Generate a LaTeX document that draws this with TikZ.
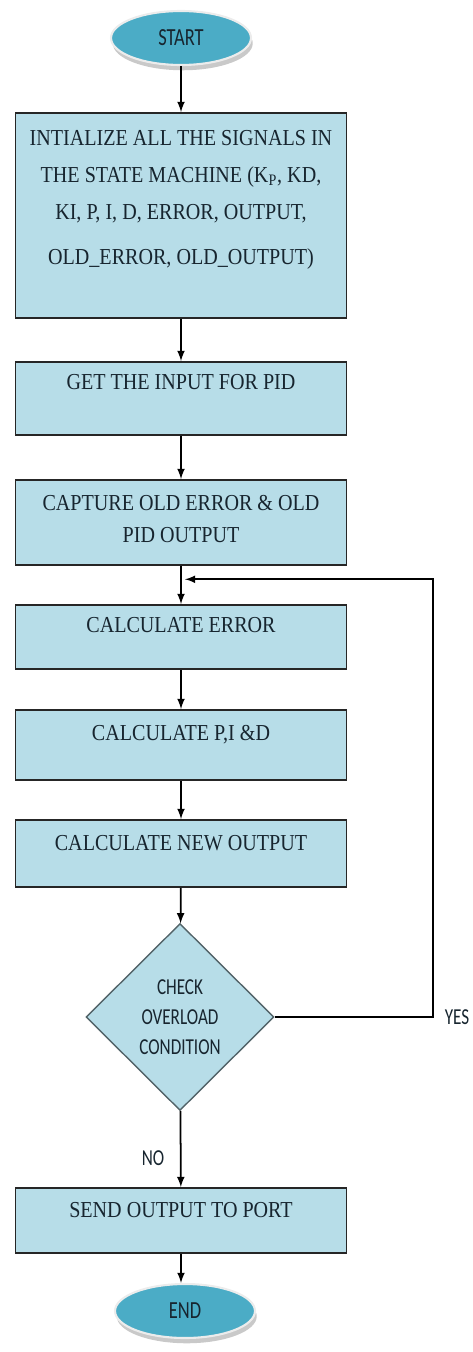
\documentclass[tikz,border=0pt]{standalone}
\usepackage{fontspec}
\setmainfont{Liberation Serif}
\newfontfamily\boxfont[FakeStretch=0.88]{Liberation Serif}
\newfontfamily\capfont[FakeStretch=0.75]{Carlito}
\usetikzlibrary{shapes.geometric,shadows,calc,arrows}
\definecolor{termblue}{HTML}{4BACC6}
\definecolor{boxblue}{HTML}{B7DDE8}
\definecolor{inkblue}{HTML}{17252F}

\begin{document}
\begin{tikzpicture}[x=0.02cm,y=-0.02cm,
	pidbox/.style={draw=black!85,line width=1.1pt,fill=boxblue,minimum width=6.62cm,inner sep=0pt,font=\boxfont\fontsize{13}{15}\selectfont,align=center,text=inkblue},
	oneline/.style={text height=8.5pt,text depth=#1},
	term/.style={ellipse,fill=termblue,draw=white!85!gray,line width=1.2pt,minimum width=2.8cm,minimum height=1.08cm,inner sep=0pt,font=\capfont\fontsize{14}{16}\selectfont,text=inkblue,drop shadow={shadow xshift=1pt,shadow yshift=-3pt,fill=black!30,opacity=0.7}},
	decision/.style={diamond,aspect=1,draw=black!55!boxblue,line width=0.8pt,fill=boxblue,minimum width=3.76cm,minimum height=3.74cm,inner sep=0pt,font=\capfont\fontsize{13}{17}\selectfont,align=center,text=inkblue},
	flow/.style={-latex,line width=1pt},
	tag/.style={font=\capfont\fontsize{13}{15}\selectfont,text=inkblue}]
		\useasboundingbox (0,0) rectangle (473,1352);
		\node[term] (start) at (181,38) {START};
		\node[pidbox,minimum height=4.1cm,text depth=20.5pt] (init) at (181,215.5) {INTIALIZE ALL THE SIGNALS IN\\[6pt]THE STATE MACHINE (K\textsubscript{P}, KD,\\[6pt]KI, P, I, D, ERROR, OUTPUT,\\[10.6pt]OLD\_ERROR, OLD\_OUTPUT)};
		\node[pidbox,oneline=18.8pt,minimum height=1.46cm] (getin) at (181,398.5) {GET THE INPUT FOR PID};
		\node[pidbox,minimum height=1.7cm,text depth=3.7pt] (capture) at (181,522.5) {CAPTURE OLD ERROR \& OLD\\[3.2pt]PID OUTPUT};
		\node[pidbox,oneline=13.7pt,minimum height=1.28cm] (calcerr) at (181,637) {CALCULATE ERROR};
		\node[pidbox,oneline=13.7pt,minimum height=1.4cm] (calcpid) at (181,745) {CALCULATE P,I \&D};
		\node[pidbox,oneline=12pt,minimum height=1.34cm] (calcout) at (181,853.5) {CALCULATE NEW OUTPUT};
		\node[decision] (check) at (180,1017) {CHECK\\OVERLOAD\\CONDITION};
		\node[pidbox,oneline=12pt,minimum height=1.3cm] (send) at (181,1220.5) {SEND OUTPUT TO PORT};
		\node[term] (end) at (185,1311) {END};
		\node[tag] (yes) at (457,1017) {YES};
		\node[tag] (no) at (153,1158) {NO};
		\coordinate (loopin) at ($(capture.south)!0.35!(calcerr.north)+(4,0)$);
		\draw[flow] (start) -- (init);
		\draw[flow] (init) -- (getin);
		\draw[flow] (getin) -- (capture);
		\draw[flow] (capture) -- (calcerr);
		\draw[flow] (calcerr) -- (calcpid);
		\draw[flow] (calcpid) -- (calcout);
		\draw[flow] (calcout) -- (check);
		\draw[flow] (check) -- (send);
		\draw[flow] (send) -- (send |- end.north);
		\draw[flow] (check.east) -- ++(158,0) |- (loopin);
	\end{tikzpicture}
\end{document}
